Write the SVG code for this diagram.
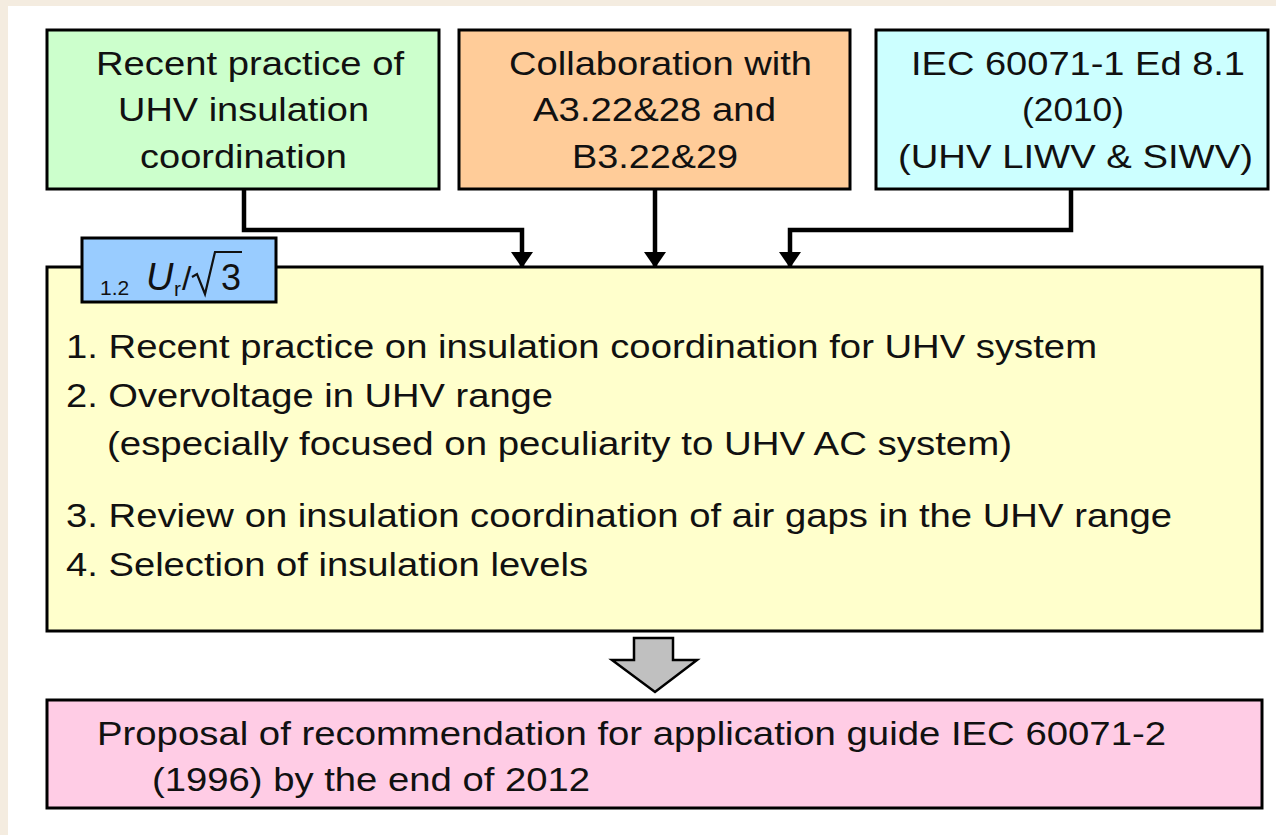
<svg xmlns="http://www.w3.org/2000/svg" width="1276" height="835" viewBox="0 0 1276 835">
  <style>
    .box { stroke: #000; stroke-width: 3; }
    .t { font-family: "Liberation Sans", Arial, sans-serif; font-size: 33px; fill: #111; }
    .c { text-anchor: middle; }
    .m { font-family: "Liberation Sans", Arial, sans-serif; fill: #111; }
    .wire { fill: none; stroke: #000; stroke-width: 4.5; }
  </style>
  <defs>
    <marker id="head" markerWidth="16" markerHeight="22" refX="15" refY="11" orient="auto" markerUnits="userSpaceOnUse" viewBox="0 0 16 22">
      <path d="M0,0 L16,11 L0,22 Z" fill="#000"/>
    </marker>
  </defs>

  <!-- page -->
  <rect x="0" y="0" width="1276" height="835" fill="#f4ece0"/>
  <rect x="8" y="6" width="1268" height="829" fill="#ffffff"/>

  <!-- input boxes -->
  <g id="practice">
    <rect class="box" x="47" y="30" width="392" height="159" fill="#ccffcc"/>
    <text class="t c" x="250" y="75" textLength="308" lengthAdjust="spacingAndGlyphs">Recent practice of</text>
    <text class="t c" x="243.5" y="121" textLength="251" lengthAdjust="spacingAndGlyphs">UHV insulation</text>
    <text class="t c" x="243.5" y="168" textLength="207" lengthAdjust="spacingAndGlyphs">coordination</text>
  </g>
  <g id="collaboration">
    <rect class="box" x="459" y="30" width="391" height="159" fill="#ffcc99"/>
    <text class="t c" x="660.5" y="75" textLength="303" lengthAdjust="spacingAndGlyphs">Collaboration with</text>
    <text class="t c" x="654.5" y="121" textLength="243" lengthAdjust="spacingAndGlyphs">A3.22&amp;28 and</text>
    <text class="t c" x="655" y="168" textLength="166" lengthAdjust="spacingAndGlyphs">B3.22&amp;29</text>
  </g>
  <g id="iec">
    <rect class="box" x="876" y="30" width="392" height="159" fill="#ccffff"/>
    <text class="t c" x="1078" y="75" textLength="334" lengthAdjust="spacingAndGlyphs">IEC 60071-1 Ed 8.1</text>
    <text class="t c" x="1073" y="121" textLength="102" lengthAdjust="spacingAndGlyphs">(2010)</text>
    <text class="t c" x="1075.5" y="168" textLength="355" lengthAdjust="spacingAndGlyphs">(UHV LIWV &amp; SIWV)</text>
  </g>

  <!-- connectors -->
  <g id="connectors">
    <polyline class="wire" points="244,189 244,230 522,230 522,267" marker-end="url(#head)"/>
    <polyline class="wire" points="655,189 655,267" marker-end="url(#head)"/>
    <polyline class="wire" points="1071,189 1071,230 790,230 790,267" marker-end="url(#head)"/>
  </g>

  <!-- study scope -->
  <g id="scope">
    <rect class="box" x="47" y="267" width="1215" height="364" fill="#ffffcc"/>
    <text class="t" x="66" y="358" textLength="1031" lengthAdjust="spacingAndGlyphs">1. Recent practice on insulation coordination for UHV system</text>
    <text class="t" x="66" y="407" textLength="487" lengthAdjust="spacingAndGlyphs">2. Overvoltage in UHV range</text>
    <text class="t" x="107" y="455" textLength="905" lengthAdjust="spacingAndGlyphs">(especially focused on peculiarity to UHV AC system)</text>
    <text class="t" x="66" y="527" textLength="1106" lengthAdjust="spacingAndGlyphs">3. Review on insulation coordination of air gaps in the UHV range</text>
    <text class="t" x="66" y="576" textLength="522" lengthAdjust="spacingAndGlyphs">4. Selection of insulation levels</text>
  </g>

  <!-- voltage label: 1.2 Ur/sqrt(3) -->
  <g id="voltage">
    <rect class="box" x="82" y="238" width="194" height="64" fill="#99ccff"/>
    <text class="m" x="100" y="295" font-size="21">1.2</text>
    <text class="m" x="146" y="290" font-size="38" font-style="italic">U</text>
    <text class="m" x="174" y="296" font-size="21">r</text>
    <text class="m" x="182" y="290" font-size="34">/</text>
    <polyline points="192,277 197,274 205,294 215,252 242,252" fill="none" stroke="#111" stroke-width="2.2"/>
    <text class="m" x="221" y="290" font-size="36">3</text>
  </g>

  <!-- result arrow -->
  <g id="result-arrow">
    <path d="M634,638 L673,638 L673,660 L697,660 L655,692 L612,660 L634,660 Z" fill="#c0c0c0" stroke="#000" stroke-width="2.5"/>
  </g>

  <!-- outcome -->
  <g id="proposal">
    <rect class="box" x="47" y="700" width="1215" height="108" fill="#ffcce5"/>
    <text class="t" x="97" y="745" textLength="1069" lengthAdjust="spacingAndGlyphs">Proposal of recommendation for application guide IEC 60071-2</text>
    <text class="t" x="152" y="791" textLength="438" lengthAdjust="spacingAndGlyphs">(1996) by the end of 2012</text>
  </g>
</svg>
